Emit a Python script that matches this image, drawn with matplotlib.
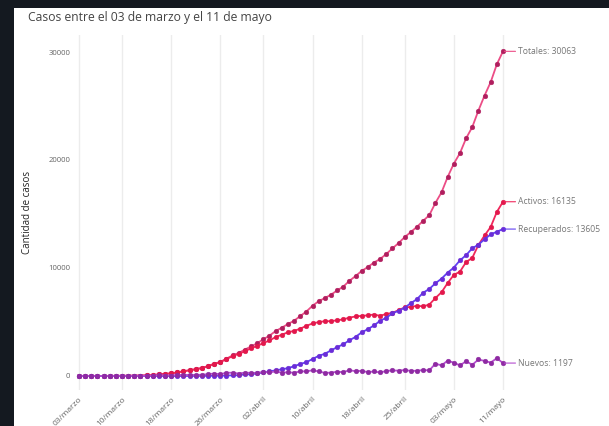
import matplotlib
matplotlib.use("Agg")
import matplotlib.pyplot as plt
from matplotlib.patches import Rectangle

plt.rcParams['font.family'] = ['Open Sans', 'DejaVu Sans']

# ---- data (03 March -> 11 May, one value per day) ----
dias = list(range(70))
tick_pos = [0, 7, 15, 23, 30, 38, 46, 53, 61, 69]
tick_labels = ["03/marzo", "10/marzo", "18/marzo", "26/marzo", "02/abril",
               "10/abril", "18/abril", "25/abril", "03/mayo", "11/mayo"]

totales = [1, 3, 4, 5, 7, 10, 13, 17, 23, 33, 43, 61, 75, 156, 201, 238, 342, 434,
           537, 632, 746, 922, 1142, 1306, 1610, 1909, 2139, 2449, 2738, 3031, 3404,
           3737, 4161, 4471, 4815, 5116, 5546, 5972, 6501, 6927, 7213, 7525, 7917,
           8273, 8807, 9252, 9730, 10088, 10507, 10832, 11296, 11812, 12306, 12858,
           13331, 13813, 14365, 14885, 16023, 17008, 18435, 19663, 20643, 22016,
           23048, 24581, 25972, 27219, 28866, 30063]

activos = [1, 3, 4, 5, 7, 10, 13, 17, 23, 33, 43, 61, 75, 156, 201, 238, 342, 434,
           536, 623, 736, 908, 1117, 1280, 1562, 1842, 2057, 2285, 2570, 2781, 3051,
           3288, 3606, 3819, 4050, 4175, 4383, 4641, 4865, 4990, 5074, 5076, 5160,
           5242, 5403, 5515, 5569, 5617, 5692, 5570, 5750, 5840, 6097, 6350, 6396,
           6500, 6448, 6612, 7216, 7756, 8616, 9362, 9663, 10552, 10939, 12136,
           13011, 13803, 15196, 16135]

recuperados = [0, 0, 0, 0, 0, 0, 0, 0, 0, 0, 0, 0, 0, 0, 0, 0, 0, 0,
               0, 8, 8, 11, 22, 22, 43, 61, 75, 156, 156, 234, 335, 427, 528, 618,
               728, 898, 1115, 1274, 1571, 1864, 2059, 2367, 2665, 2937, 3299, 3621,
               4035, 4338, 4676, 5115, 5386, 5804, 6035, 6327, 6746, 7115, 7710, 8057,
               8580, 9018, 9572, 10041, 10710, 11189, 11828, 12160, 12667, 13112,
               13358, 13605]

nuevos = [1, 2, 1, 1, 2, 3, 3, 4, 6, 10, 10, 18, 14, 81, 45, 37, 104, 92, 103, 95,
          114, 176, 220, 164, 304, 299, 230, 310, 289, 293, 373, 333, 424, 310, 344,
          301, 430, 426, 529, 426, 286, 312, 392, 356, 534, 445, 478, 358, 419, 325,
          464, 516, 494, 552, 473, 482, 552, 520, 1138, 985, 1427, 1228, 980, 1373,
          1032, 1533, 1391, 1247, 1647, 1197]

series = [
    ("Totales", totales, "#ec4d86", "#b01e5e"),
    ("Activos", activos, "#f0285c", "#e2184c"),
    ("Recuperados", recuperados, "#6040f2", "#6a2dd8"),
    ("Nuevos", nuevos, "#b44ccf", "#8e2aa2"),
]

W, H = 609, 426
fig = plt.figure(figsize=(W / 100, H / 100), dpi=100, facecolor="white")
dark = "#141920"
# dark frame strips (left and top)
fig.patches.append(Rectangle((0, 0), 14 / W, 1, transform=fig.transFigure,
                             facecolor=dark, edgecolor="none", zorder=-10))
fig.patches.append(Rectangle((0, 1 - 8 / H), 1, 8 / H, transform=fig.transFigure,
                             facecolor=dark, edgecolor="none", zorder=-10))

L, R, T, B = 76, 515, 35, 390
ax = fig.add_axes([L / W, 1 - B / H, (R - L) / W, (B - T) / H])
ax.set_facecolor("white")

x0px, x69px = 79, 503
sc = (x69px - x0px) / 69
ax.set_xlim((L - x0px) / sc, 69 + (R - x69px) / sc)
ypx0 = 376
ysc = 108 / 10000
ax.set_ylim(-(B - ypx0) / ysc, (ypx0 - T) / ysc)

for s in ax.spines.values():
    s.set_visible(False)

ax.set_xticks(tick_pos)
ax.set_xticklabels(tick_labels, rotation=45, ha="right", rotation_mode="anchor",
                   fontsize=6.0, color="#666666")
ax.set_yticks([0, 10000, 20000, 30000])
ax.set_yticklabels(["0", "10000", "20000", "30000"], fontsize=5.6, color="#666666")
ax.tick_params(axis="both", length=0)
ax.tick_params(axis="x", pad=4)
ax.tick_params(axis="y", pad=4)
ax.grid(axis="x", color="#ececec", lw=1.0)
ax.grid(axis="y", visible=False)
ax.set_axisbelow(True)

for name, vals, lc, mc in series:
    ax.plot(dias, vals, color=lc, lw=1.3, marker="o", markersize=3.4,
            markerfacecolor=mc, markeredgecolor=mc, markeredgewidth=0.3,
            zorder=3)
    ax.annotate(f"{name}: {vals[-1]}", xy=(dias[-1], vals[-1]),
                xytext=(11, 0), textcoords="offset points",
                ha="left", va="center", fontsize=6.2, color="#777777",
                arrowprops=dict(arrowstyle="-", color=lc, lw=0.8,
                                shrinkA=0, shrinkB=1),
                annotation_clip=False, zorder=4)

ax.set_ylabel("Cantidad de casos", fontsize=7.0, color="#222222", labelpad=11)

fig.text(28 / W, 1 - 18 / H, "Casos entre el 03 de marzo y el 11 de mayo",
         fontsize=8.7, color="#444444", ha="left", va="center")

fig.savefig("out.png", dpi=100, facecolor=fig.get_facecolor())
